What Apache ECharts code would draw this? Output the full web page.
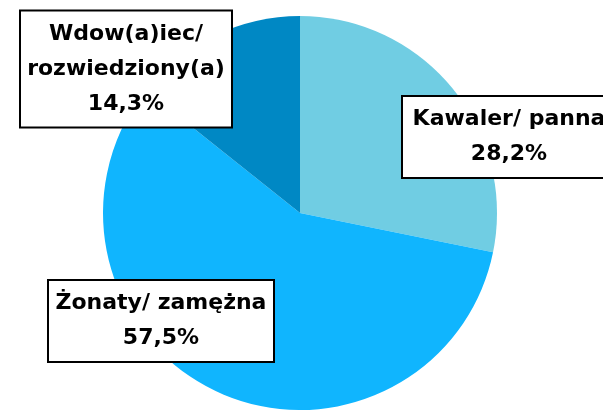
<!DOCTYPE html>
<html>
<head>
<meta charset="utf-8">
<script src="https://cdn.jsdelivr.net/npm/echarts@6/dist/echarts.min.js"></script>
<style>html,body{margin:0;padding:0;background:#fff}#c{width:603px;height:411px}</style>
</head>
<body>
<div id="c"></div>
<script>
const categories = ['Kawaler/ panna', 'Żonaty/ zamężna', 'Wdow(a)iec/\nrozwiedziony(a)'];
const values = [28.2, 57.5, 14.3];
const colors = ['#70CDE3', '#10B5FE', '#0088C4'];
const labelCenters = [[509, 137], [161, 321], [126, 69]];
const labelWidths = [212, 224, 210];

const chart = echarts.init(document.getElementById('c'), null, {renderer: 'canvas'});
chart.setOption({
  animation: false,
  series: [{
    type: 'pie',
    center: [300, 213],
    radius: 197,
    startAngle: 90,
    clockwise: true,
    data: categories.map((n, i) => ({
      name: n, value: values[i],
      itemStyle: {color: colors[i]},
      label: {width: labelWidths[i]}
    })),
    labelLine: {show: false},
    label: {
      show: true,
      formatter: p => p.name + '\n' + p.value.toFixed(1).replace('.', ',') + '%',
      fontFamily: '"DejaVu Sans", sans-serif',
      fontWeight: 'bold',
      fontSize: 22,
      lineHeight: 35,
      color: '#000',
      backgroundColor: '#fff',
      borderColor: '#000',
      borderWidth: 2,
      padding: [5, 0],
      align: 'center',
      verticalAlign: 'middle',
      overflow: 'none'
    },
    labelLayout: p => ({
      x: labelCenters[p.dataIndex][0],
      y: labelCenters[p.dataIndex][1],
      align: 'center',
      verticalAlign: 'middle',
      hideOverlap: false,
      moveOverlap: null
    })
  }]
});
</script>
</body>
</html>
